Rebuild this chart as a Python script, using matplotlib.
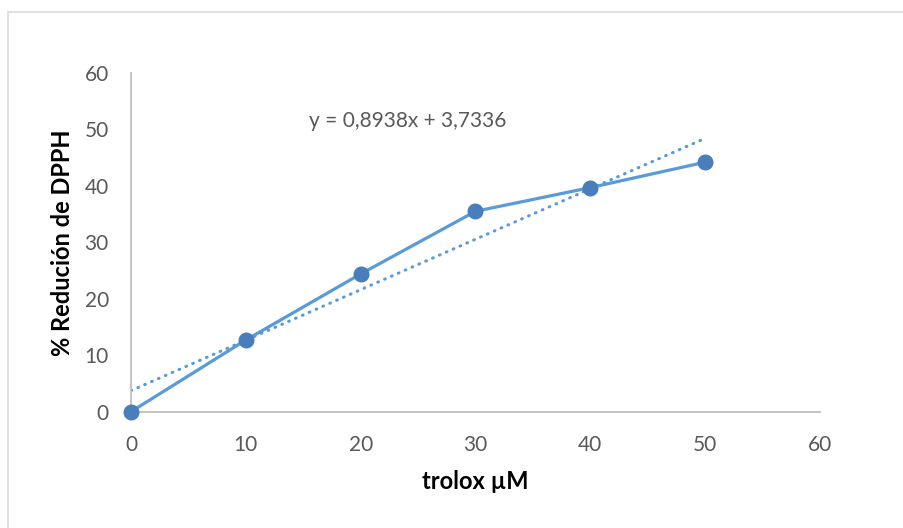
import matplotlib
matplotlib.use("Agg")
import matplotlib.pyplot as plt
import numpy as np
from matplotlib.patches import Rectangle

plt.rcParams["font.family"] = ["Lato", "DejaVu Sans"]

# data
trolox = [0, 10, 20, 30, 40, 50]
reduction = [0.0, 12.7, 24.4, 35.5, 39.7, 44.2]
slope = 0.8938
intercept = 3.7336
equation = "y = 0,8938x + 3,7336"
ticks = [0, 10, 20, 30, 40, 50, 60]

line_blue = "#5B9BD5"
marker_blue = "#4A7EBB"
grey_text = "#595959"
axis_grey = "#BFBFBF"

fig = plt.figure(figsize=(9.04, 5.28), dpi=100)
# chart border (runs off the right and bottom edge like the reference)
fig.patches.append(Rectangle((8 / 904, -0.01), 1.0, 1 - 11.5 / 528 + 0.01,
                             transform=fig.transFigure, fill=False,
                             edgecolor="#D9D9D9", linewidth=1.2))

ax = fig.add_axes([131 / 904, (528 - 411.7) / 528, 689 / 904, 338.7 / 528])

fit_x = np.array([trolox[0], trolox[-1]])
ax.plot(fit_x, slope * fit_x + intercept, color=line_blue, linewidth=2.2,
        linestyle=(0, (0.25, 2.2)), dash_capstyle="round", zorder=2)
ax.plot(trolox, reduction, color=line_blue, linewidth=2.3, marker="o",
        markersize=10.5, markerfacecolor=marker_blue, markeredgecolor=marker_blue,
        zorder=3, clip_on=False)

ax.set_xlim(0, 60)
ax.set_ylim(0, 60)
ax.set_xticks(ticks)
ax.set_yticks(ticks)
ax.tick_params(length=0, labelsize=15, labelcolor=grey_text)
ax.tick_params(axis="x", pad=17)
ax.tick_params(axis="y", pad=16)

for side in ["top", "right"]:
    ax.spines[side].set_visible(False)
for side in ["left", "bottom"]:
    ax.spines[side].set_color(axis_grey)
    ax.spines[side].set_linewidth(1.3)

ax.set_xlabel("trolox µM", fontsize=17, fontweight="bold", color="black")
ax.set_ylabel("% Redución de DPPH", fontsize=17, fontweight="bold", color="black")
ax.xaxis.set_label_coords(0.5, -0.207)
ax.yaxis.set_label_coords(-0.10, 0.5)
ax.xaxis.label.set_va("center")
ax.yaxis.label.set_va("center")

ax.text(24.1, 51.5, equation, fontsize=15, color=grey_text, ha="center", va="center")

fig.savefig("out.png", dpi=100)
